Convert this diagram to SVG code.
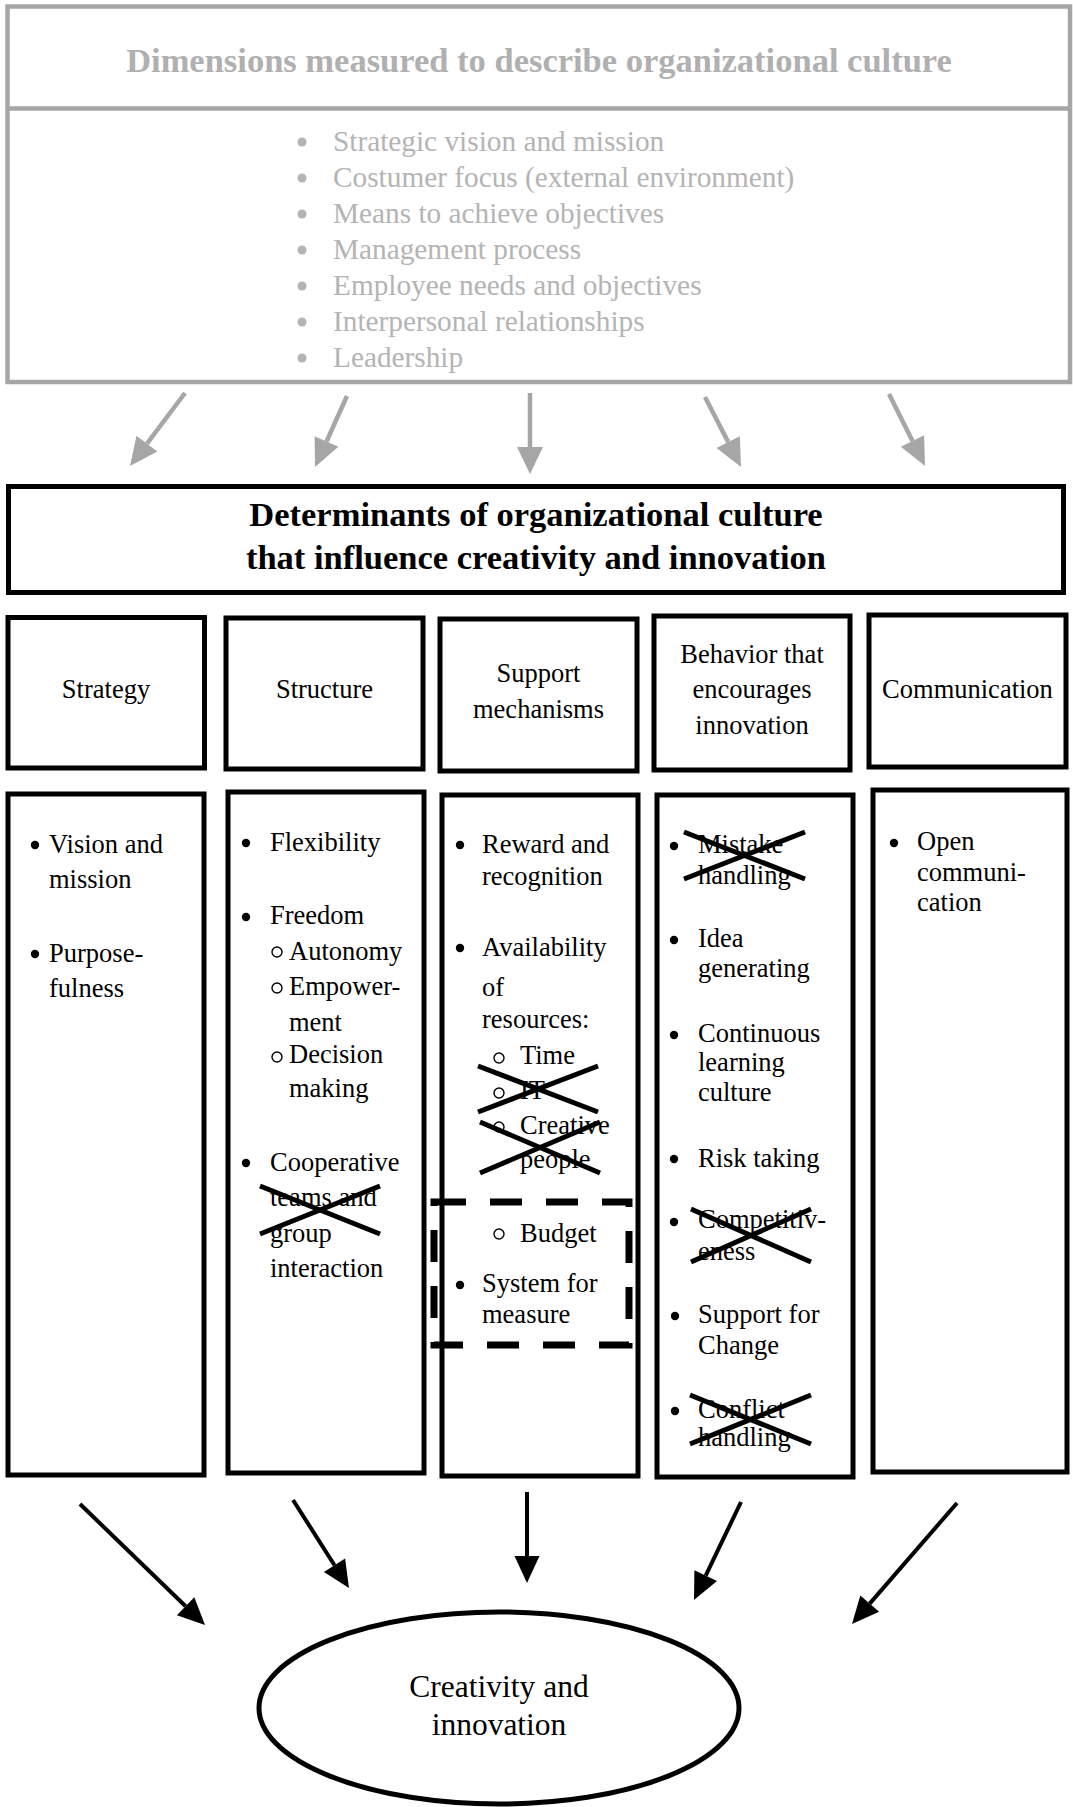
<svg xmlns="http://www.w3.org/2000/svg" width="1073" height="1807" viewBox="0 0 1073 1807">
  <style>
    .gbox { fill: #ffffff; stroke: #a6a6a6; stroke-width: 4.5; }
    .gtitle { font-family: "Liberation Serif", "Times New Roman", serif; font-weight: bold; font-size: 34.5px; fill: #b0b0b0; }
    .gitem { font-family: "Liberation Serif", "Times New Roman", serif; font-size: 29.3px; fill: #b4b4b4; }
    .gdot { fill: #b4b4b4; }
    .gline { stroke: #a6a6a6; stroke-width: 4.5; fill: none; }
    .ghead { fill: #a6a6a6; }
    .box { fill: #ffffff; stroke: #000000; stroke-width: 5; }
    .main { font-family: "Liberation Serif", "Times New Roman", serif; font-weight: bold; font-size: 34.5px; fill: #000000; }
    .hdr { font-family: "Liberation Serif", "Times New Roman", serif; font-size: 26.5px; fill: #000000; text-anchor: middle; }
    .txt { font-family: "Liberation Serif", "Times New Roman", serif; font-size: 26.5px; fill: #000000; }
    .dot { fill: #000000; }
    .ring { fill: none; stroke: #000000; stroke-width: 1.4; }
    .cross { stroke: #000000; stroke-width: 5; fill: none; }
    .dash { fill: none; stroke: #000000; stroke-width: 7; stroke-dasharray: 32 24; }
    .kline { stroke: #000000; stroke-width: 4; fill: none; }
    .khead { fill: #000000; }
    .oval { fill: #ffffff; stroke: #000000; stroke-width: 5; }
    .otxt { font-family: "Liberation Serif", "Times New Roman", serif; font-size: 31.5px; fill: #000000; text-anchor: middle; }
  </style>

  <rect width="1073" height="1807" fill="#ffffff"/>

  <!-- Measured dimensions panel -->
  <g id="dimensions">
    <rect class="gbox" x="7.5" y="6.5" width="1062.5" height="375.5"/>
    <line class="gline" x1="7.5" y1="108.5" x2="1070" y2="108.5"/>
    <text class="gtitle" x="539" y="72" text-anchor="middle">Dimensions measured to describe organizational culture</text>
    <g>
      <circle class="gdot" cx="302" cy="142" r="4.5"/>
      <circle class="gdot" cx="302" cy="178" r="4.5"/>
      <circle class="gdot" cx="302" cy="214" r="4.5"/>
      <circle class="gdot" cx="302" cy="250" r="4.5"/>
      <circle class="gdot" cx="302" cy="286" r="4.5"/>
      <circle class="gdot" cx="302" cy="322" r="4.5"/>
      <circle class="gdot" cx="302" cy="358" r="4.5"/>
      <text class="gitem" x="333" y="151">Strategic vision and mission</text>
      <text class="gitem" x="333" y="187">Costumer focus (external environment)</text>
      <text class="gitem" x="333" y="223">Means to achieve objectives</text>
      <text class="gitem" x="333" y="259">Management process</text>
      <text class="gitem" x="333" y="295">Employee needs and objectives</text>
      <text class="gitem" x="333" y="331">Interpersonal relationships</text>
      <text class="gitem" x="333" y="367">Leadership</text>
    </g>
  </g>

  <!-- Determinants banner -->
  <g id="determinants">
    <rect class="box" x="8.5" y="486.5" width="1055" height="106"/>
    <text class="main" x="536" y="526" text-anchor="middle">Determinants of organizational culture</text>
    <text class="main" x="536" y="569" text-anchor="middle">that influence creativity and innovation</text>
  </g>

  <!-- Column headers -->
  <g id="hdr-strategy">
    <rect class="box" x="8" y="617.5" width="196.5" height="150.5"/>
    <text class="hdr" x="106" y="698">Strategy</text>
  </g>
  <g id="hdr-structure">
    <rect class="box" x="226" y="618" width="197" height="151"/>
    <text class="hdr" x="324.5" y="698">Structure</text>
  </g>
  <g id="hdr-support">
    <rect class="box" x="440" y="619" width="197" height="152"/>
    <text class="hdr" x="538.5" y="682">Support</text>
    <text class="hdr" x="538.5" y="718">mechanisms</text>
  </g>
  <g id="hdr-behavior">
    <rect class="box" x="654" y="616" width="196" height="154"/>
    <text class="hdr" x="752" y="663">Behavior that</text>
    <text class="hdr" x="752" y="698">encourages</text>
    <text class="hdr" x="752" y="734">innovation</text>
  </g>
  <g id="hdr-communication">
    <rect class="box" x="869" y="615" width="197" height="152"/>
    <text class="hdr" x="967.5" y="698">Communication</text>
  </g>

  <!-- Strategy column -->
  <g id="col-strategy">
    <rect class="box" x="8" y="794" width="196" height="681"/>
    <circle class="dot" cx="35" cy="845" r="4.2"/>
    <text class="txt" x="49" y="853">Vision and</text>
    <text class="txt" x="49" y="888">mission</text>
    <circle class="dot" cx="35" cy="954" r="4.2"/>
    <text class="txt" x="49" y="962">Purpose-</text>
    <text class="txt" x="49" y="997">fulness</text>
  </g>

  <!-- Structure column -->
  <g id="col-structure">
    <rect class="box" x="228" y="792" width="196" height="681"/>
    <circle class="dot" cx="246" cy="843" r="4.2"/>
    <text class="txt" x="270" y="851">Flexibility</text>
    <circle class="dot" cx="246" cy="917" r="4.2"/>
    <text class="txt" x="270" y="924">Freedom</text>
    <circle class="ring" cx="277" cy="952" r="5"/>
    <text class="txt" x="289" y="960">Autonomy</text>
    <circle class="ring" cx="277" cy="988" r="5"/>
    <text class="txt" x="289" y="995">Empower-</text>
    <text class="txt" x="289" y="1031">ment</text>
    <circle class="ring" cx="277" cy="1057" r="5"/>
    <text class="txt" x="289" y="1063">Decision</text>
    <text class="txt" x="289" y="1097">making</text>
    <circle class="dot" cx="246" cy="1163" r="4.2"/>
    <text class="txt" x="270" y="1171">Cooperative</text>
    <text class="txt" x="270" y="1206">teams and</text>
    <text class="txt" x="270" y="1242">group</text>
    <text class="txt" x="270" y="1277">interaction</text>
    <line class="cross" x1="260" y1="1186" x2="380" y2="1234"/>
    <line class="cross" x1="260" y1="1234" x2="380" y2="1186"/>
  </g>

  <!-- Support mechanisms column -->
  <g id="col-support">
    <rect class="box" x="442" y="795" width="196" height="681"/>
    <circle class="dot" cx="460" cy="845" r="4.2"/>
    <text class="txt" x="482" y="853">Reward and</text>
    <text class="txt" x="482" y="885">recognition</text>
    <circle class="dot" cx="460" cy="948" r="4.2"/>
    <text class="txt" x="482" y="956">Availability</text>
    <text class="txt" x="482" y="996">of</text>
    <text class="txt" x="482" y="1028">resources:</text>
    <circle class="ring" cx="499" cy="1058" r="5"/>
    <text class="txt" x="520" y="1064">Time</text>
    <circle class="ring" cx="499" cy="1093" r="5"/>
    <text class="txt" x="520" y="1099">IT</text>
    <circle class="ring" cx="499" cy="1127" r="5"/>
    <text class="txt" x="520" y="1134">Creative</text>
    <text class="txt" x="520" y="1168">people</text>
    <line class="cross" x1="478" y1="1066" x2="598" y2="1112"/>
    <line class="cross" x1="478" y1="1112" x2="598" y2="1066"/>
    <line class="cross" x1="480" y1="1122" x2="600" y2="1173"/>
    <line class="cross" x1="480" y1="1173" x2="600" y2="1122"/>
    <rect class="dash" x="434" y="1202" width="195" height="143"/>
    <circle class="ring" cx="499" cy="1234" r="5"/>
    <text class="txt" x="520" y="1242">Budget</text>
    <circle class="dot" cx="460" cy="1285" r="4.2"/>
    <text class="txt" x="482" y="1292">System for</text>
    <text class="txt" x="482" y="1323">measure</text>
  </g>

  <!-- Behavior column -->
  <g id="col-behavior">
    <rect class="box" x="657" y="795" width="196" height="682"/>
    <circle class="dot" cx="674" cy="846" r="4.2"/>
    <text class="txt" x="698" y="853">Mistake</text>
    <text class="txt" x="698" y="884">handling</text>
    <line class="cross" x1="684" y1="832" x2="805" y2="879"/>
    <line class="cross" x1="684" y1="879" x2="805" y2="832"/>
    <circle class="dot" cx="674" cy="940" r="4.2"/>
    <text class="txt" x="698" y="947">Idea</text>
    <text class="txt" x="698" y="977">generating</text>
    <circle class="dot" cx="674" cy="1035" r="4.2"/>
    <text class="txt" x="698" y="1042">Continuous</text>
    <text class="txt" x="698" y="1071">learning</text>
    <text class="txt" x="698" y="1101">culture</text>
    <circle class="dot" cx="674" cy="1159" r="4.2"/>
    <text class="txt" x="698" y="1167">Risk taking</text>
    <circle class="dot" cx="674" cy="1222" r="4.2"/>
    <text class="txt" x="698" y="1228">Competitiv-</text>
    <text class="txt" x="698" y="1260">eness</text>
    <line class="cross" x1="691" y1="1209" x2="811" y2="1262"/>
    <line class="cross" x1="691" y1="1262" x2="811" y2="1209"/>
    <circle class="dot" cx="675" cy="1316" r="4.2"/>
    <text class="txt" x="698" y="1323">Support for</text>
    <text class="txt" x="698" y="1354">Change</text>
    <circle class="dot" cx="675" cy="1411" r="4.2"/>
    <text class="txt" x="698" y="1418">Conflict</text>
    <text class="txt" x="698" y="1446">handling</text>
    <line class="cross" x1="690" y1="1395" x2="811" y2="1444"/>
    <line class="cross" x1="690" y1="1444" x2="811" y2="1395"/>
  </g>

  <!-- Communication column -->
  <g id="col-communication">
    <rect class="box" x="873" y="790" width="194" height="682"/>
    <circle class="dot" cx="894" cy="843" r="4.2"/>
    <text class="txt" x="917" y="850">Open</text>
    <text class="txt" x="917" y="881">communi-</text>
    <text class="txt" x="917" y="911">cation</text>
  </g>

  <!-- Outcome -->
  <g id="outcome">
    <ellipse class="oval" cx="499" cy="1708" rx="240" ry="96"/>
    <text class="otxt" x="499" y="1697">Creativity and</text>
    <text class="otxt" x="499" y="1735">innovation</text>
  </g>

  <!-- Connectors -->
  <g id="connectors">
    <line class="gline" x1="185" y1="393" x2="147" y2="443.6"/>
    <polygon class="ghead" points="130,466 157.3,451.4 136.5,435.8"/>
    <line class="gline" x1="347" y1="396" x2="326.5" y2="441.5"/>
    <polygon class="ghead" points="315,467 338.4,446.8 314.6,436.2"/>
    <line class="gline" x1="530" y1="393" x2="530" y2="448"/>
    <polygon class="ghead" points="530,474 517,447 543,447"/>
    <line class="gline" x1="705" y1="397" x2="728.2" y2="442.1"/>
    <polygon class="ghead" points="741,467 739.8,436.2 716.6,448"/>
    <line class="gline" x1="889" y1="394" x2="912.5" y2="441"/>
    <polygon class="ghead" points="925,466 924.1,435.2 900.9,446.8"/>

    <line class="kline" x1="80" y1="1504" x2="185.6" y2="1606.2"/>
    <polygon class="khead" points="205,1625 194.3,1597.2 176.9,1615.2"/>
    <line class="kline" x1="293" y1="1500" x2="334.5" y2="1565.2"/>
    <polygon class="khead" points="349,1588 345.1,1558.5 323.9,1571.9"/>
    <line class="kline" x1="527" y1="1492" x2="527" y2="1557"/>
    <polygon class="khead" points="527,1583 514.5,1556 539.5,1556"/>
    <line class="kline" x1="741" y1="1502" x2="705.7" y2="1575.6"/>
    <polygon class="khead" points="694,1600 717,1581 694.4,1570.2"/>
    <line class="kline" x1="957" y1="1503" x2="869.7" y2="1603.6"/>
    <polygon class="khead" points="852,1624 879.1,1611.8 860.3,1595.4"/>
  </g>
</svg>
